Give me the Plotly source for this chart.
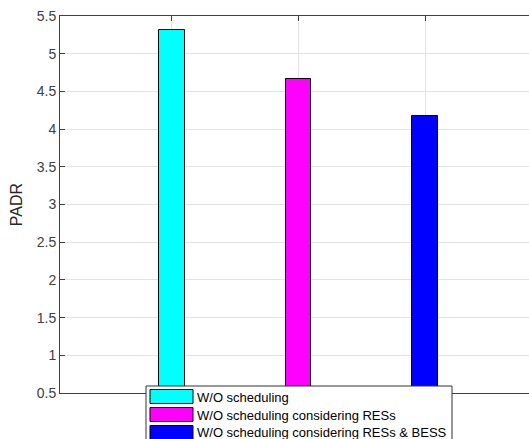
import plotly.graph_objects as go

# ---- data ----
series_names = ["W/O scheduling",
                "W/O scheduling considering RESs",
                "W/O scheduling considering RESs & BESS"]
series_x = [1, 2, 3]
series_values = [5.31, 4.66, 4.18]
series_colors = ["#00ffff", "#ff00ff", "#0000ff"]
ytick_vals = [0.5, 1, 1.5, 2, 2.5, 3, 3.5, 4, 4.5, 5, 5.5]
ytick_text = ["0.5", "1", "1.5", "2", "2.5", "3", "3.5", "4", "4.5", "5", "5.5"]
y_label = "PADR"

W, H = 529, 439
L, R, T = 60, 0, 16
B = H - 393
pw, ph = W - L - R, H - T - B

def px(x):  # window pixel -> paper x
    return (x - L) / pw

def py(y):  # window pixel -> paper y
    return (H - B - y) / ph

fig = go.Figure()
for name, xv, val, col in zip(series_names, series_x, series_values, series_colors):
    fig.add_trace(go.Bar(x=[xv], y=[val], name=name, width=0.2, base=0,
                         marker=dict(color=col, line=dict(color="#000000", width=1)),
                         showlegend=False))

font_family = "Liberation Sans, Arial, Helvetica, sans-serif"

# custom MATLAB-style legend
shapes = [dict(type="rect", xref="paper", yref="paper",
               x0=px(146), x1=px(452), y0=py(386), y1=py(460),
               line=dict(color="#333333", width=1), fillcolor="#ffffff", layer="above")]
annotations = []
for i, (name, col) in enumerate(zip(series_names, series_colors)):
    top = 389.5 + 18 * i
    shapes.append(dict(type="rect", xref="paper", yref="paper",
                       x0=px(150), x1=px(193), y0=py(top), y1=py(top + 14),
                       line=dict(color="#000000", width=1), fillcolor=col, layer="above"))
    annotations.append(dict(x=px(195), y=py(top + 7.5), xref="paper", yref="paper",
                            text=name, showarrow=False, xanchor="left", yanchor="middle",
                            font=dict(family=font_family, size=13, color="#000000")))

fig.update_layout(
    width=W, height=H,
    margin=dict(l=L, r=R, t=T, b=B, pad=0),
    paper_bgcolor="#ffffff", plot_bgcolor="#ffffff",
    font=dict(family=font_family, size=14, color="#404040"),
    bargap=0,
    hovermode=False,
    shapes=shapes, annotations=annotations,
    xaxis=dict(range=[0.115, 3.822], tickvals=series_x, ticktext=["", "", ""],
               showgrid=True, gridcolor="#e3e3e3", gridwidth=1,
               showline=True, linecolor="#404040", linewidth=1, mirror="ticks",
               ticks="inside", ticklen=5, tickcolor="#404040", zeroline=False),
    yaxis=dict(range=[0.5, 5.5], tickvals=ytick_vals, ticktext=ytick_text,
               showgrid=True, gridcolor="#e3e3e3", gridwidth=1,
               showline=True, linecolor="#404040", linewidth=1,
               ticks="inside", ticklen=5, tickcolor="#404040", zeroline=False,
               ticklabeloverflow="allow",
               tickfont=dict(size=14, color="#404040"),
               title=dict(text=y_label, font=dict(size=16, color="#262626"), standoff=10)),
)

fig.write_html("out.html", config={"displayModeBar": False},
               post_script="document.body.style.margin='0';document.body.style.overflow='hidden';")
